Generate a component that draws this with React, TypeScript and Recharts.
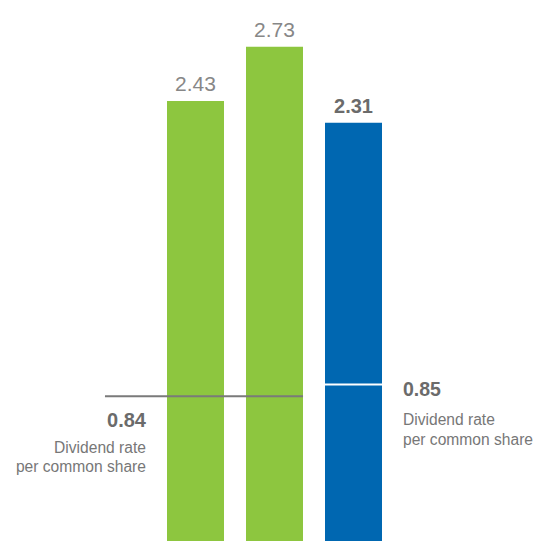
import React from 'react';
import { BarChart, Bar, XAxis, YAxis, Cell, LabelList, ReferenceLine } from 'recharts';

const categories = ['Year 1', 'Year 2', 'Year 3'];
const values = [2.43, 2.73, 2.31];
const barColors = ['#8dc63f', '#8dc63f', '#0067b1'];
const valueLabelColors = ['#878787', '#878787', '#6b6b6b'];
const valueLabelWeights = ['normal', 'normal', 'bold'];

// Dividend markers: label text and level at which each marker is drawn
const dividendLabels = ['0.84', '0.85'];
const dividendLevels = [0.8, 0.865];
const dividendCaption = ['Dividend rate', 'per common share'];
// marker extents in bar-slot units (slot i spans i..i+1)
const priorMarkerX = [-0.646, 1.861];
const currentMarkerX = [2, 3];

const data = categories.map((name, i) => ({ name, value: values[i] }));

const FONT = '"Liberation Sans", Arial, Helvetica, sans-serif';
const CAPTION_SIZE = 15.6;

const renderValueLabel = (props: any) => {
  const { x, y, width, value, index } = props;
  return (
    <text
      x={x + width / 2}
      y={y - 10}
      textAnchor="middle"
      fontFamily={FONT}
      fontSize={index === 2 ? 20 : 21}
      fontWeight={valueLabelWeights[index]}
      fill={valueLabelColors[index]}
    >
      {Number(value).toFixed(2)}
    </text>
  );
};

const renderPriorLabel = (props: any) => {
  const vb = props.viewBox || {};
  const ax = vb.x + 41;
  return (
    <g fontFamily={FONT}>
      <text x={ax} y={vb.y + 31} textAnchor="end" fontSize={20} fontWeight="bold" fill="#6b6b6b">
        {dividendLabels[0]}
      </text>
      <text x={ax} y={vb.y + 57} textAnchor="end" fontSize={CAPTION_SIZE} fill="#777777">
        {dividendCaption[0]}
      </text>
      <text x={ax} y={vb.y + 76} textAnchor="end" fontSize={CAPTION_SIZE} fill="#777777">
        {dividendCaption[1]}
      </text>
    </g>
  );
};

const renderCurrentLabel = (props: any) => {
  const vb = props.viewBox || {};
  const ax = vb.x + vb.width + 10;
  return (
    <g fontFamily={FONT}>
      <text x={ax} y={vb.y + 12} textAnchor="start" fontSize={19.5} fontWeight="bold" fill="#6b6b6b">
        {dividendLabels[1]}
      </text>
      <text x={ax} y={vb.y + 41} textAnchor="start" fontSize={CAPTION_SIZE} fill="#777777">
        {dividendCaption[0]}
      </text>
      <text x={ax} y={vb.y + 61} textAnchor="start" fontSize={CAPTION_SIZE} fill="#777777">
        {dividendCaption[1]}
      </text>
    </g>
  );
};

export default function App() {
  return (
    <div style={{ width: 536, height: 541, overflow: 'hidden' }}>
      <style>{'html,body{margin:0;padding:0;overflow:hidden;background:#fff}'}</style>
      <BarChart
        width={536}
        height={541}
        data={data}
        margin={{ top: 16, right: 143, bottom: 0, left: 77 }}
      >
        <XAxis dataKey="name" hide padding={{ left: 79, right: 0 }} />
        <XAxis
          xAxisId="slot"
          dataKey="value"
          type="number"
          domain={[-1, 3]}
          hide
          allowDataOverflow
        />
        <YAxis hide type="number" domain={[0, 2.9]} allowDataOverflow />
        <Bar dataKey="value" barSize={57} isAnimationActive={false}>
          {data.map((d, i) => (
            <Cell key={d.name} fill={barColors[i]} />
          ))}
          <LabelList dataKey="value" content={renderValueLabel} />
        </Bar>
        <ReferenceLine
          xAxisId="slot"
          segment={[
            { x: priorMarkerX[0], y: dividendLevels[0] },
            { x: priorMarkerX[1], y: dividendLevels[0] },
          ]}
          stroke="#7a7a7a"
          strokeWidth={2}
          ifOverflow="visible"
          label={renderPriorLabel}
        />
        <ReferenceLine
          xAxisId="slot"
          segment={[
            { x: currentMarkerX[0], y: dividendLevels[1] },
            { x: currentMarkerX[1], y: dividendLevels[1] },
          ]}
          stroke="#ffffff"
          strokeWidth={2}
          ifOverflow="visible"
          label={renderCurrentLabel}
        />
      </BarChart>
    </div>
  );
}
